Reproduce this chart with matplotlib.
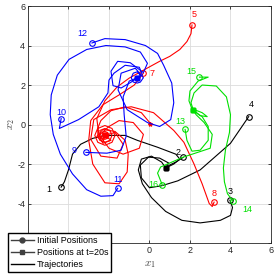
import matplotlib
matplotlib.use("Agg")
import matplotlib.pyplot as plt
from matplotlib.lines import Line2D

plt.rcParams['font.family'] = ['Liberation Sans', 'DejaVu Sans']
plt.rcParams['mathtext.fontset'] = 'cm'

# trajectories, (x1, x2) pairs
traj1 = [(-4.36, -3.17), (-4.2, -2.9), (-4.0, -2.3), (-3.8, -1.5), (-3.4, -1.0), (-2.8, -0.7),
         (-2.2, -0.55), (-1.2, -0.55), (-0.6, -0.8), (0.4, -1.15), (1.3, -1.5), (1.5, -1.75),
         (1.2, -2.0), (0.8, -2.2)]
traj2 = [(1.67, -1.66), (1.3, -1.9), (1.0, -2.05), (0.8, -2.2)]
traj3 = [(3.97, -3.83), (4.1, -4.2), (4.0, -4.6), (3.5, -4.85), (2.5, -4.98), (1.6, -4.85),
         (0.8, -4.4), (0.1, -3.7), (-0.35, -3.0), (-0.55, -2.3), (-0.4, -1.75), (0.1, -1.6),
         (0.6, -1.9), (0.8, -2.2)]
traj4 = [(4.9, 0.4), (4.0, -0.95), (2.5, -2.3), (1.4, -2.85), (0.6, -3.1), (0.0, -3.2),
         (-0.4, -2.7), (-0.45, -2.05), (-0.05, -1.65), (0.5, -1.7), (0.95, -1.95), (0.8, -2.2)]
traj5 = [(2.1, 5.04), (2.05, 4.6), (1.85, 4.2), (1.5, 3.8), (1.0, 3.45), (0.5, 3.2), (-0.3, 2.75),
         (-1.0, 2.35), (-1.6, 1.9), (-2.2, 1.2), (-2.6, 0.3), (-2.5, -0.5), (-2.0, -1.2),
         (-1.3, -1.5), (-0.5, -1.2), (-0.3, -0.5), (-0.8, 0.1), (-1.5, 0.2), (-2.0, -0.1),
         (-2.5, -0.55), (-2.3, -0.95), (-1.9, -0.8), (-2.2, -0.55)]
traj6 = [(0.05, 0.05), (-0.4, 0.6), (-1.2, 0.9), (-1.9, 0.7), (-2.4, 0.2), (-2.7, -0.55),
         (-2.55, -0.9), (-2.2, -1.05), (-1.85, -0.9), (-1.7, -0.55), (-1.85, -0.2), (-2.2, -0.05),
         (-2.55, -0.2), (-2.55, -0.55), (-2.45, -0.8), (-2.2, -0.9), (-1.95, -0.8), (-1.85, -0.55),
         (-1.95, -0.3), (-2.2, -0.2), (-2.45, -0.3), (-2.4, -0.55), (-2.34, -0.69), (-2.2, -0.75),
         (-2.06, -0.69), (-2.0, -0.55), (-2.06, -0.41), (-2.2, -0.35), (-2.34, -0.41),
         (-2.3, -0.55), (-2.2, -0.55)]
traj7 = [(-0.3, 2.6), (-0.75, 2.0), (-1.5, 1.5), (-2.3, 1.0), (-2.9, 0.2), (-3.0, -0.8),
         (-2.8, -2.0), (-2.2, -2.95), (-1.5, -3.0), (-1.1, -2.4), (-1.05, -1.5), (-1.2, -0.8),
         (-1.7, -0.35), (-2.3, -0.25), (-2.6, -0.6), (-2.3, -0.9), (-2.2, -0.55)]
traj8 = [(3.19, -3.93), (3.1, -4.15), (2.95, -4.0), (2.6, -3.0), (2.2, -2.0), (1.7, -0.9),
         (1.2, -0.3), (0.2, 0.6), (-0.9, 0.9), (-1.9, 0.75), (-2.75, 0.25), (-2.9, -0.75),
         (-2.4, -1.6), (-1.6, -1.7), (-1.3, -1.0), (-1.7, -0.4), (-2.2, -0.55)]
traj9 = [(-3.14, -1.41), (-2.1, -1.45), (-1.4, -1.3), (-1.15, -0.6), (-1.25, 0.5), (-1.3, 1.4),
         (-1.0, 2.2), (-0.6, 2.37)]
traj10 = [(-4.36, 0.3), (-4.45, -0.2), (-3.5, 0.25), (-2.5, 0.9), (-2.05, 1.6), (-2.0, 2.25),
          (-1.75, 2.6), (-1.2, 3.0), (-0.5, 2.9), (-0.35, 2.5), (-0.6, 2.37)]
traj11 = [(-1.57, -3.23), (-1.8, -3.6), (-2.4, -3.63), (-3.1, -3.3), (-3.8, -2.5), (-4.4, -1.5),
          (-4.75, -0.5), (-4.9, 0.5), (-4.85, 1.5), (-4.55, 2.5), (-3.97, 3.3), (-3.1, 3.8),
          (-2.15, 4.0), (-1.2, 3.93), (-0.45, 3.67), (-0.1, 3.1), (-0.3, 2.63), (-0.95, 3.13),
          (-1.57, 3.2), (-1.9, 2.7), (-1.8, 1.97), (-1.4, 1.85), (-0.9, 2.15), (-0.6, 2.37)]
traj12 = [(-2.84, 4.13), (-2.2, 4.35), (-1.2, 4.3), (-0.2, 4.0), (0.4, 3.6), (0.7, 3.0),
          (1.1, 2.1), (1.2, 1.1), (1.05, 0.25), (0.5, -0.1), (-0.1, 0.1), (-1.1, 0.75),
          (-1.55, 1.75), (-1.4, 2.6), (-0.7, 2.85), (-0.3, 2.37), (-0.45, 2.15), (-0.6, 2.1),
          (-0.8, 2.15), (-0.9, 2.37), (-0.8, 2.6), (-0.6, 2.67), (-0.45, 2.5), (-0.6, 2.37)]
traj13 = [(1.76, -0.25), (1.85, -0.8), (2.1, -1.35), (2.5, -1.3), (2.9, -0.8), (2.9, -0.1),
          (2.6, 0.4), (2.3, 0.6), (2.16, 0.75)]
traj14 = [(4.12, -3.88), (3.85, -3.5), (3.7, -2.9), (3.65, -2.2), (3.75, -1.3), (3.95, -0.4),
          (4.0, 0.5), (3.8, 1.4), (3.3, 1.95), (2.6, 2.0), (2.2, 1.6), (2.05, 1.1), (2.16, 0.75)]
traj15 = [(2.47, 2.4), (2.9, 2.4), (2.4, 2.2), (2.0, 1.7), (1.95, 1.2), (2.1, 0.8), (2.6, 0.6),
          (2.85, 0.4), (2.5, 0.45), (2.16, 0.75)]
traj16 = [(0.64, -3.08), (0.4, -2.46), (0.55, -2.15), (1.67, -1.65), (3.0, -1.2), (3.1, -0.5),
          (2.7, 0.1), (2.3, 0.5), (2.16, 0.75)]

trajectories = [traj1, traj2, traj3, traj4, traj5, traj6, traj7, traj8,
                traj9, traj10, traj11, traj12, traj13, traj14, traj15, traj16]
group_colors = ['black', 'red', 'blue', '#00e000']

# label positions next to each initial marker (index 6 has no visible label)
label_pos = {1: (-4.96, -3.27), 2: (1.42, -1.44), 3: (4.0, -3.4), 4: (5.05, 1.0),
             5: (2.2, 5.55), 7: (0.12, 2.6), 8: (3.2, -3.47), 9: (-3.7, -1.3),
             10: (-4.36, 0.63), 11: (-1.57, -2.8), 12: (-3.3, 4.63), 13: (1.5, 0.13),
             14: (4.83, -4.28), 15: (2.07, 2.66), 16: (0.2, -3.06)}

tick_vals = [-6, -4, -2, 0, 2, 4, 6]
xtick_labels = ['', '', '-2', '0', '2', '4', '6']
ytick_labels = ['', '-4', '-2', '0', '2', '4', '6']

fig = plt.figure(figsize=(2.74, 2.74), dpi=100)
ax = fig.add_axes([0.102, 0.113, 0.887, 0.865])

for i, tr in enumerate(trajectories):
    c = group_colors[i // 4]
    xs = [p[0] for p in tr]
    ys = [p[1] for p in tr]
    ax.plot(xs, ys, color=c, lw=0.8)
    ax.plot(xs[-1], ys[-1], marker='s', ms=3, color=c, mfc=c)
    if i == 5:
        ax.plot(xs[0], ys[0], marker='*', ms=3, color=c)
    else:
        ax.plot(xs[0], ys[0], marker='o', ms=4, mfc='none', mew=0.8, color=c)
    if (i + 1) in label_pos:
        lx, ly = label_pos[i + 1]
        ax.text(lx, ly, str(i + 1), color=c, fontsize=6.5, ha='center', va='center')

ax.set_xlim(-6, 6)
ax.set_ylim(-6, 6)
ax.set_xticks(tick_vals)
ax.set_xticklabels(xtick_labels)
ax.set_yticks(tick_vals)
ax.set_yticklabels(ytick_labels)
ax.tick_params(direction='in', labelsize=6.5, length=2.5, width=0.6, pad=2,
               top=True, right=True, colors='#262626')
ax.grid(True, color='#dcdcdc', lw=0.6)
ax.set_axisbelow(True)
for s in ax.spines.values():
    s.set_linewidth(0.6)
    s.set_color('#262626')
ax.set_xlabel('$x_1$', fontsize=8, labelpad=3, color='#404040')
ax.set_ylabel('$x_2$', fontsize=8, labelpad=0, color='#404040')

handles = [Line2D([], [], color='0.25', lw=1, marker='o', ms=3.5),
           Line2D([], [], color='0.25', lw=1, marker='s', ms=3),
           Line2D([], [], color='black', lw=1)]
fig.legend(handles, ['Initial Positions', 'Positions at t=20s', 'Trajectories'],
           loc='lower left', bbox_to_anchor=(0.029, 0.007), fontsize=6.5,
           frameon=True, fancybox=False, edgecolor='black', framealpha=1,
           handlelength=2.6, handletextpad=0.3, labelspacing=0.35,
           borderpad=0.3, borderaxespad=0)

fig.savefig('out.png', dpi=100)
